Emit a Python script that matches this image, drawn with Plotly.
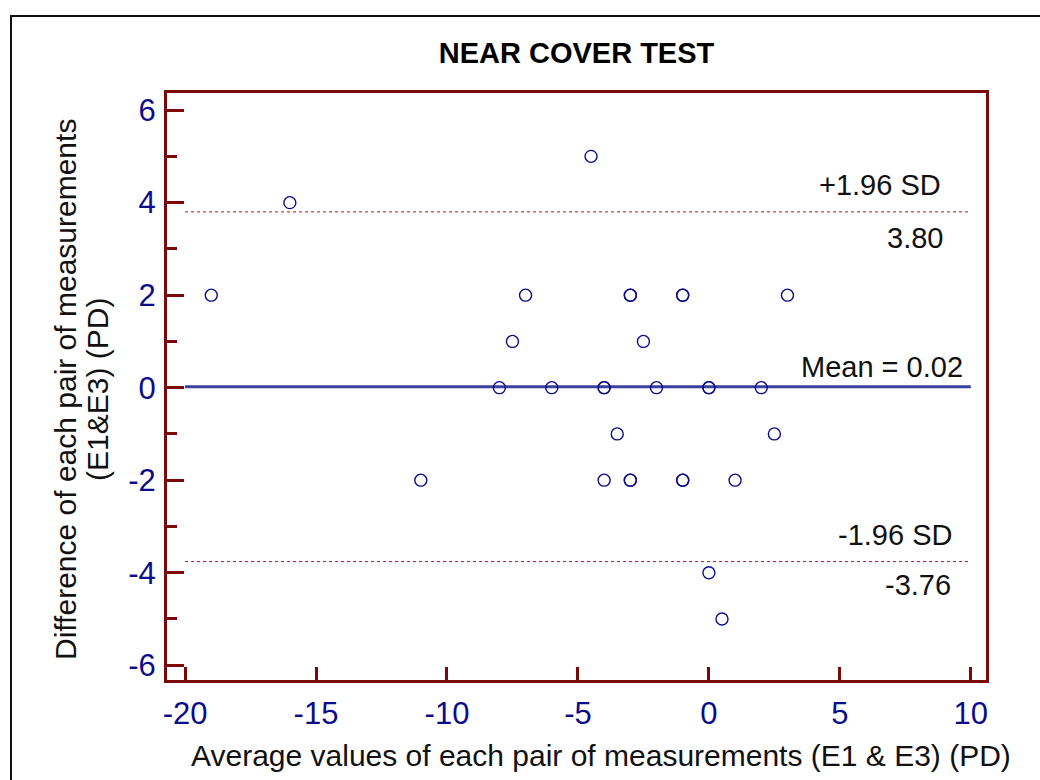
import plotly.graph_objects as go

# Bland-Altman data: average of E1 & E3 vs. their difference (PD)
avg_values = [-19, -16, -11, -8, -7.5, -7, -6, -4.5,
              -4, -4, -4, -3.5, -3, -3, -3, -3,
              -2.5, -2, -1, -1, -1, -1, 0, 0,
              0, 0.5, 1, 2, 2.5, 3]
diff_values = [2, 4, -2, 0, 1, 2, 0, 5,
               0, 0, -2, -1, 2, 2, -2, -2,
               1, 0, 2, 2, -2, -2, 0, 0,
               -4, -5, -2, 0, -1, 2]

mean_diff = 0.02
upper_loa = 3.80
lower_loa = -3.76
line_span = [-20, 10]

x_ticks = [-20, -15, -10, -5, 0, 5, 10]
x_tick_text = ["-20", "-15", "-10", "-5", "0", "5", "10"]
y_ticks = [-6, -4, -2, 0, 2, 4, 6]
y_tick_text = ["-6", "-4", "-2", "0", "2", "4", "6"]

FONT = "Arial, Liberation Sans, sans-serif"
FRAME = "#7a0a0a"
NAVY = "#0c0c8a"

fig = go.Figure()

# limits of agreement (dotted) and mean difference
for yv in (upper_loa, lower_loa):
    fig.add_trace(go.Scatter(x=line_span, y=[yv, yv], mode="lines",
                             line=dict(color="#9a1a1a", width=1, dash="dot"),
                             hoverinfo="skip", showlegend=False))
fig.add_trace(go.Scatter(x=line_span, y=[mean_diff, mean_diff], mode="lines",
                         line=dict(color="#3b3f9e", width=3.2),
                         hoverinfo="skip", showlegend=False))

fig.add_trace(go.Scatter(x=avg_values, y=diff_values, mode="markers",
                         marker=dict(symbol="circle-open", size=12,
                                     color=NAVY, line=dict(width=1.4, color=NAVY)),
                         showlegend=False))

label_font = dict(family=FONT, size=29, color="#111111")
annotations = [
    dict(x=8.95, y=upper_loa + 0.58, text="+1.96 SD"),
    dict(x=9.0, y=upper_loa - 0.57, text=f"{upper_loa:.2f}"),
    dict(x=9.78, y=mean_diff + 0.42, text=f"Mean = {mean_diff:.2f}"),
    dict(x=9.36, y=lower_loa + 0.57, text="-1.96 SD"),
    dict(x=9.31, y=lower_loa - 0.51, text=f"{lower_loa:.2f}"),
]
for a in annotations:
    fig.add_annotation(x=a["x"], y=a["y"], text=a["text"], xref="x", yref="y",
                       xanchor="right", yanchor="middle", showarrow=False,
                       font=label_font)

W, H = 1040, 780
L, R, T, B = 167, 54, 93, 100
pw, ph = W - L - R, H - T - B

def px_to_paper(px, py):
    return (px - L) / pw, (H - B - py) / ph

title_font = dict(family=FONT, size=30, color="#111111")

# y-axis title, two lines
for line_text, px in (("Difference of each pair of measurements", 65),
                      ("(E1&E3) (PD)", 97)):
    fig.add_annotation(x=px_to_paper(px, 0)[0], y=px_to_paper(0, 390)[1],
                       xref="paper", yref="paper",
                       text=line_text, textangle=-90, showarrow=False,
                       xanchor="center", yanchor="middle", font=title_font)

# x-axis title
xt, yt = px_to_paper(601, 755)
fig.add_annotation(x=xt, y=yt, xref="paper", yref="paper",
                   text="Average values of each pair of measurements (E1 & E3) (PD)",
                   showarrow=False, xanchor="center", yanchor="middle", font=title_font)

x0, y0 = px_to_paper(11, 16)
x1, y1 = px_to_paper(1046, 786)
fig.add_shape(type="rect", xref="paper", yref="paper", x0=x0, y0=y1, x1=x1, y1=y0,
              line=dict(color="#111111", width=2), fillcolor="rgba(0,0,0,0)", layer="below")

fig.update_layout(
    width=W, height=H,
    margin=dict(l=L, r=R, t=T, b=B),
    paper_bgcolor="white", plot_bgcolor="white",
    title=dict(text="<b>NEAR COVER TEST</b>", x=(576.5) / W, xanchor="center",
               y=1 - 53 / H, yanchor="middle",
               font=dict(family=FONT, size=29, color="#000000")),
    xaxis=dict(range=[-20.69, 10.58], tickvals=x_ticks, ticktext=x_tick_text,
               ticks="inside", ticklen=13,
               tickwidth=3, tickcolor=FRAME, showline=True, linecolor=FRAME,
               linewidth=3, mirror=True, showgrid=False, zeroline=False,
               tickfont=dict(family=FONT, size=31, color=NAVY),
               ticklabelstandoff=4),
    yaxis=dict(range=[-6.32, 6.37], tickvals=y_ticks, ticktext=y_tick_text,
               ticks="inside", ticklen=17,
               tickwidth=3, tickcolor=FRAME, showline=True, linecolor=FRAME,
               linewidth=3, mirror=True, showgrid=False, zeroline=False,
               tickfont=dict(family=FONT, size=31, color=NAVY),
               ticklabelstandoff=2,
               minor=dict(tickvals=[-5, -3, -1, 1, 3, 5], ticks="inside", ticklen=10,
                          tickwidth=3, tickcolor=FRAME)),
)

fig.write_html("out.html")
